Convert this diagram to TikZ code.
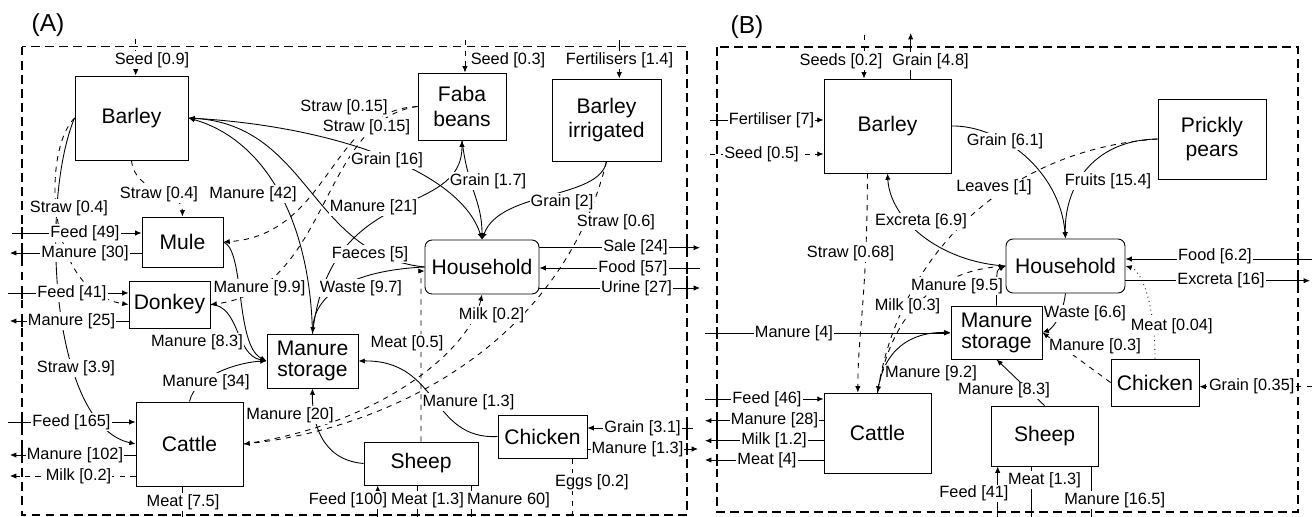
\documentclass[tikz,border=0pt]{standalone}
\usepackage{fontspec}
\setmainfont{Liberation Sans}
\usetikzlibrary{arrows.meta}

\begin{document}
\begin{tikzpicture}[x=0.02cm,y=-0.02cm,line width=0.5pt,
  >={Latex[length=3.6pt,width=3pt]},
  box/.style={draw,line width=0.5pt,inner sep=0pt,align=center,font=\fontsize{12}{14}\selectfont},
  hbox/.style={box,rounded corners=4pt},
  lbl/.style={fill=white,inner sep=0.6pt,font=\fontsize{9.3}{11}\selectfont},
  frame/.style={line width=0.6pt,dash pattern=on 5pt off 3pt},
  tick/.style={line width=0.6pt}]

\useasboundingbox (0,0) rectangle (1316,517);

% ---------------- panel A ----------------
\draw[frame] (22,46.7) rectangle (687,515);
\node[font=\fontsize{14}{16}\selectfont] (titleA) at (48,25) {(A)};

\node[box,minimum width=2.26cm,minimum height=1.68cm] (barA) at (131.5,118) {Barley};
\node[box,minimum width=1.76cm,minimum height=1.34cm] (fabaA) at (462,106.5) {Faba\\beans};
\node[box,minimum width=2.18cm,minimum height=1.64cm] (irrA) at (606.5,120) {Barley\\irrigated};
\node[box,minimum width=1.62cm,minimum height=1.0cm] (muleA) at (182.5,242) {Mule};
\node[box,minimum width=1.62cm,minimum height=0.94cm] (donkA) at (169.5,304.5) {Donkey};
\node[box,minimum width=2.14cm,minimum height=1.68cm] (catA) at (189.5,444) {Cattle};
\node[box,minimum width=1.82cm,minimum height=1.08cm,font=\fontsize{12}{12}\selectfont] (msA) at (312.5,361) {Manure\\storage};
\node[hbox,minimum width=2.28cm,minimum height=1.08cm] (hhA) at (482,267) {Household};
\node[box,minimum width=1.78cm,minimum height=0.86cm] (chkA) at (542.5,436.5) {Chicken};
\node[box,minimum width=2.28cm,minimum height=0.86cm] (shpA) at (421,463.5) {Sheep};

% flows across the boundary
\coordinate (iSeedA) at (135.7,39);
\coordinate (iSeedF) at (465,40);
\coordinate (iFert) at (619.3,40);
\coordinate (iFeedMule) at (12,233);
\coordinate (oManMule) at (10,253);
\coordinate (iFeedDonk) at (8,293);
\coordinate (oManDonk) at (10,321);
\coordinate (iFeedCat) at (8,422);
\coordinate (oManCat) at (10,455);
\coordinate (oMilkCat) at (10,476);
\coordinate (oMeatCat) at (182.7,517);
\coordinate (oSale) at (700,247.7);
\coordinate (iFood) at (700,268);
\coordinate (oUrine) at (700,288);
\coordinate (iGrChk) at (693,428);
\coordinate (oManChk) at (698,449);
\coordinate (iFeedShp) at (377.7,517);
\coordinate (oMeatShp) at (417.7,517);
\coordinate (oManShp) at (471.7,517);
\coordinate (oEggs) at (572.3,517);

\draw[dashed,->] (iSeedA) -- (iSeedA |- barA.north);
\draw[dashed,->] (iSeedF) -- (iSeedF |- fabaA.north);
\draw[->] (iFert) -- (iFert |- irrA.north);
\draw[->] (iFeedMule) -- (iFeedMule -| muleA.west);
\draw[->] (muleA.west |- oManMule) -- (oManMule);
\draw[->] (iFeedDonk) -- (iFeedDonk -| donkA.west);
\draw[->] (donkA.west |- oManDonk) -- (oManDonk);
\draw[->] (iFeedCat) -- (iFeedCat -| catA.west);
\draw[->] (catA.west |- oManCat) -- (oManCat);
\draw[dashed,->] (catA.west |- oMilkCat) -- (oMilkCat);
\draw (catA.south -| oMeatCat) -- (oMeatCat);
\draw[->] (hhA.east |- oSale) -- (oSale);
\draw[->] (iFood) -- (iFood -| hhA.east);
\draw[->] (hhA.east |- oUrine) -- (oUrine);
\draw[->] (iGrChk) -- (iGrChk -| chkA.east);
\draw[->] (chkA.east |- oManChk) -- (oManChk);
\draw[->] (iFeedShp) -- (iFeedShp |- shpA.south);
\draw (shpA.south -| oMeatShp) -- (oMeatShp);
\draw (shpA.south -| oManShp) -- (oManShp);
\draw[dashed] (chkA.south -| oEggs) -- (oEggs);
\foreach \y in {233,253,293,321,422,455} \draw[tick] (22,\y-6) -- (22,\y+6);
\foreach \y in {247.7,268,288,428,449} \draw[tick] (687,\y-6) -- (687,\y+6);

% flows inside the farm
\draw[dashed,->] (barA.south) .. controls (135,195) and (182,190) .. (muleA.north);
\draw[dashed,->] (barA.west) .. controls (42,150) and (45,292) .. (donkA.west);
\draw[->] (barA.west) .. controls (40,200) and (50,425) .. (catA.west);
\draw[->] (muleA.east) .. controls (245,250) and (235,345) .. (msA.west);
\draw[->] (donkA.east) .. controls (240,305) and (235,355) .. (msA.west);
\draw[->] (catA.north) .. controls (195,375) and (240,362) .. (msA.west);
\draw[->] (msA.north) .. controls (310,220) and (265,140) .. (barA.east);
\draw[->] (msA.north) .. controls (330,180) and (462,220) .. (fabaA.south);
\draw[->] (hhA.west) .. controls (310,255) and (310,125) .. (barA.east);
\draw[->] (hhA.west) .. controls (360,270) and (315,290) .. (msA.north);
\draw[->] (barA.east) .. controls (330,125) and (460,170) .. (hhA.north);
\draw[->] (fabaA.south) .. controls (468,190) and (482,200) .. (hhA.north);
\draw[->] (irrA.south) .. controls (600,200) and (500,190) .. (hhA.north);
\draw[dashed,->] (irrA.south) .. controls (560,350) and (380,430) .. (catA.east);
\draw[dashed,->] (catA.east) .. controls (380,425) and (470,350) .. (hhA.south);
\draw[dashed,->] (fabaA.west) .. controls (330,110) and (330,235) .. (muleA.east);
\draw[dashed,->] (fabaA.west) .. controls (320,120) and (330,290) .. (donkA.east);
\draw[dashed,->] (shpA.north) -- ++(0,-162) to[out=90,in=180] ([yshift=-2.3pt]hhA.west);
\draw[->] (shpA.west) .. controls (320,460) and (312,420) .. (msA.south);
\draw[->] (chkA.west) .. controls (430,440) and (440,360) .. (msA.east);

% labels A
\node[lbl] (lSeedA) at (152,60) {Seed [0.9]};
\node[lbl] (lSeedF) at (508,60) {Seed [0.3]};
\node[lbl] (lFert) at (619.5,60) {Fertilisers [1.4]};
\node[lbl] (lStrMule) at (159,194) {Straw [0.4]};
\node[lbl] (lStrDonk) at (69,208) {Straw [0.4]};
\node[lbl] (lFeedMule) at (85,233) {Feed [49]};
\node[lbl] (lManMule) at (85,253) {Manure [30]};
\node[lbl] (lFeedDonk) at (72,293) {Feed [41]};
\node[lbl] (lManDonk) at (71.5,321) {Manure [25]};
\node[lbl] (lStrCat) at (76,368) {Straw [3.9]};
\node[lbl] (lFeedCat) at (71.5,422) {Feed [165]};
\node[lbl] (lManCat) at (75,455) {Manure [102]};
\node[lbl] (lMilkCat) at (78.5,476) {Milk [0.2]};
\node[lbl] (lMeatCat) at (183,502) {Meat [7.5]};
\node[lbl] (lMan34) at (206,382) {Manure [34]};
\node[lbl] (lMan83) at (197,342) {Manure [8.3]};
\node[lbl] (lMan99) at (259.5,288) {Manure [9.9]};
\node[lbl] (lMan42) at (253,194) {Manure [42]};
\node[lbl] (lMan21) at (373.5,207) {Manure [21]};
\node[lbl] (lFaec) at (370,254) {Faeces [5]};
\node[lbl] (lWaste) at (361,288) {Waste [9.7]};
\node[lbl] (lStrF1) at (344,107) {Straw [0.15]};
\node[lbl] (lStrF2) at (366.5,127) {Straw [0.15]};
\node[lbl] (lGr16) at (387,160) {Grain [16]};
\node[lbl] (lGr17) at (488,181) {Grain [1.7]};
\node[lbl] (lGr2) at (562,202) {Grain [2]};
\node[lbl] (lStr06) at (616,222) {Straw [0.6]};
\node[lbl] (lSale) at (635.5,247.7) {Sale [24]};
\node[lbl] (lFood) at (633,268) {Food [57]};
\node[lbl] (lUrine) at (636.5,288) {Urine [27]};
\node[lbl] (lMilkHH) at (491.5,315) {Milk [0.2]};
\node[lbl] (lMeat05) at (407,343) {Meat [0.5]};
\node[lbl] (lMan13) at (468.5,402) {Manure [1.3]};
\node[lbl] (lMan20) at (290,415) {Manure [20]};
\node[lbl] (lGr31) at (642.5,428) {Grain [3.1]};
\node[lbl] (lManChk) at (637.5,449) {Manure [1.3]};
\node[lbl] (lEggs) at (592,482) {Eggs [0.2]};
\node[lbl] (lFeedShp) at (348,500) {Feed [100]};
\node[lbl] (lMeatShp) at (427.5,500) {Meat [1.3]};
\node[lbl] (lManShp) at (508.5,500) {Manure 60]};

% ---------------- panel B ----------------
\draw[frame] (717,47) rectangle (1298,512);
\node[font=\fontsize{14}{16}\selectfont] (titleB) at (747,27) {(B)};

\node[box,minimum width=2.54cm,minimum height=1.88cm] (barB) at (887.5,126) {Barley};
\node[box,minimum width=2.16cm,minimum height=1.6cm] (prkB) at (1212,139) {Prickly\\pears};
\node[hbox,minimum width=2.38cm,minimum height=1.08cm] (hhB) at (1065.5,266) {Household};
\node[box,minimum width=1.82cm,minimum height=1.06cm,font=\fontsize{12}{12}\selectfont] (msB) at (996.5,332.5) {Manure\\storage};
\node[box,minimum width=1.76cm,minimum height=0.94cm] (chkB) at (1155,382.5) {Chicken};
\node[box,minimum width=2.14cm,minimum height=1.6cm] (catB) at (877.5,433) {Cattle};
\node[box,minimum width=2.14cm,minimum height=1.2cm] (shpB) at (1044.5,436) {Sheep};

\coordinate (iSeedsB) at (864,35);
\coordinate (oGrB) at (910.7,33);
\coordinate (iFertB) at (710,120);
\coordinate (iSeedB) at (710,154);
\coordinate (iManB) at (705,333);
\coordinate (iFeed46) at (705,399);
\coordinate (oMan28) at (705,420.7);
\coordinate (oMilk12) at (705,440.7);
\coordinate (oMeat4) at (705,460);
\coordinate (iFoodB) at (1312,259);
\coordinate (oExcB) at (1310,280.7);
\coordinate (iGrB) at (1312,386.7);
\coordinate (iFeed41) at (997.7,517);
\coordinate (oMeat13B) at (1031.7,517);
\coordinate (oMan165) at (1091,517);

\draw[dashed,->] (iSeedsB) -- (iSeedsB |- barB.north);
\draw[->] (barB.north -| oGrB) -- (oGrB);
\draw[->] (iFertB) -- (iFertB -| barB.west);
\draw[dashed,->] (iSeedB) -- (iSeedB -| barB.west);
\draw[->] (iManB) -- (iManB -| msB.west);
\draw[->] (iFeed46) -- (iFeed46 -| catB.west);
\draw[->] (catB.west |- oMan28) -- (oMan28);
\draw[->] (catB.west |- oMilk12) -- (oMilk12);
\draw[->] (catB.west |- oMeat4) -- (oMeat4);
\draw[->] (iFoodB) -- (iFoodB -| hhB.east);
\draw[->] (hhB.east |- oExcB) -- (oExcB);
\draw[dashed,->] (iGrB) -- (iGrB -| chkB.east);
\draw[->] (iFeed41) -- (iFeed41 |- shpB.south);
\draw (shpB.south -| oMeat13B) -- (oMeat13B);
\draw (shpB.south -| oMan165) -- (oMan165);
\foreach \y in {120,333,399,420.7,440.7,460} \draw[tick] (717,\y-6) -- (717,\y+6);
\foreach \y in {259,280.7} \draw[tick] (1298,\y-6) -- (1298,\y+6);

\draw[->] (barB.east) .. controls (1000,125) and (1060,170) .. (hhB.north);
\draw[->] (prkB.west) .. controls (1090,140) and (1064,190) .. (hhB.north);
\draw[dashed,->] (prkB.west) .. controls (1000,150) and (900,260) .. (catB.north);
\draw[dashed,->] ([xshift=-11.4pt]barB.south) .. controls (867,300) and (858,330) .. ([xshift=-11.2pt]catB.north);
\draw[->] (hhB.west) .. controls (940,262) and (890,220) .. (barB.south);
\draw[dashed,->] (catB.north) .. controls (890,320) and (930,272) .. (hhB.west);
\draw[->] (msB.north) -- ++(0,-22) .. controls (997,270) .. (hhB.west);
\draw[->] (catB.north) .. controls (883,350) and (910,332) .. (msB.west);
\draw[->] (hhB.south) .. controls (1062,320) and (1050,330) .. (msB.east);
\draw[dashed,->] (chkB.west) -- (msB.east);
\draw[dotted,->] (chkB.north) .. controls (1155,300) and (1140,270) .. (hhB.east);
\draw[->] (shpB.north) -- (msB.south);

% labels B
\node[lbl] (lSeedsB) at (841,61) {Seeds [0.2]};
\node[lbl] (lGr48) at (930.5,61) {Grain [4.8]};
\node[lbl] (lFertB) at (771.5,120) {Fertiliser [7]};
\node[lbl] (lSeedB) at (761.5,154) {Seed [0.5]};
\node[lbl] (lGr61) at (1005,141.7) {Grain [6.1]};
\node[lbl] (lFruit) at (1108,181) {Fruits [15.4]};
\node[lbl] (lLeaves) at (994,187.7) {Leaves [1]};
\node[lbl] (lExc69) at (921,221.7) {Excreta [6.9]};
\node[lbl] (lStr068) at (850.5,253) {Straw [0.68]};
\node[lbl] (lFoodB) at (1215,256.7) {Food [6.2]};
\node[lbl] (lExc16) at (1221,280.7) {Excreta [16]};
\node[lbl] (lMan95) at (957,286) {Manure [9.5]};
\node[lbl] (lMilk03) at (907.5,306.7) {Milk [0.3]};
\node[lbl] (lWaste66) at (1085,313.3) {Waste [6.6]};
\node[lbl] (lMan4) at (794,333.3) {Manure [4]};
\node[lbl] (lMeat004) at (1171.7,326.7) {Meat [0.04]};
\node[lbl] (lMan03) at (1095,346.7) {Manure [0.3]};
\node[lbl] (lMan92) at (931,373.3) {Manure [9.2]};
\node[lbl] (lGr035) at (1251.7,386.7) {Grain [0.35]};
\node[lbl] (lMan83B) at (1004,390.7) {Manure [8.3]};
\node[lbl] (lFeed46) at (767,399) {Feed [46]};
\node[lbl] (lMan28) at (774.5,420.7) {Manure [28]};
\node[lbl] (lMilk12) at (774,440.7) {Milk [1.2]};
\node[lbl] (lMeat4) at (767,460) {Meat [4]};
\node[lbl] (lMeat13B) at (1044.5,480) {Meat [1.3]};
\node[lbl] (lFeed41) at (974,493.3) {Feed [41]};
\node[lbl] (lMan165) at (1114.7,500) {Manure [16.5]};
\end{tikzpicture}
\end{document}
